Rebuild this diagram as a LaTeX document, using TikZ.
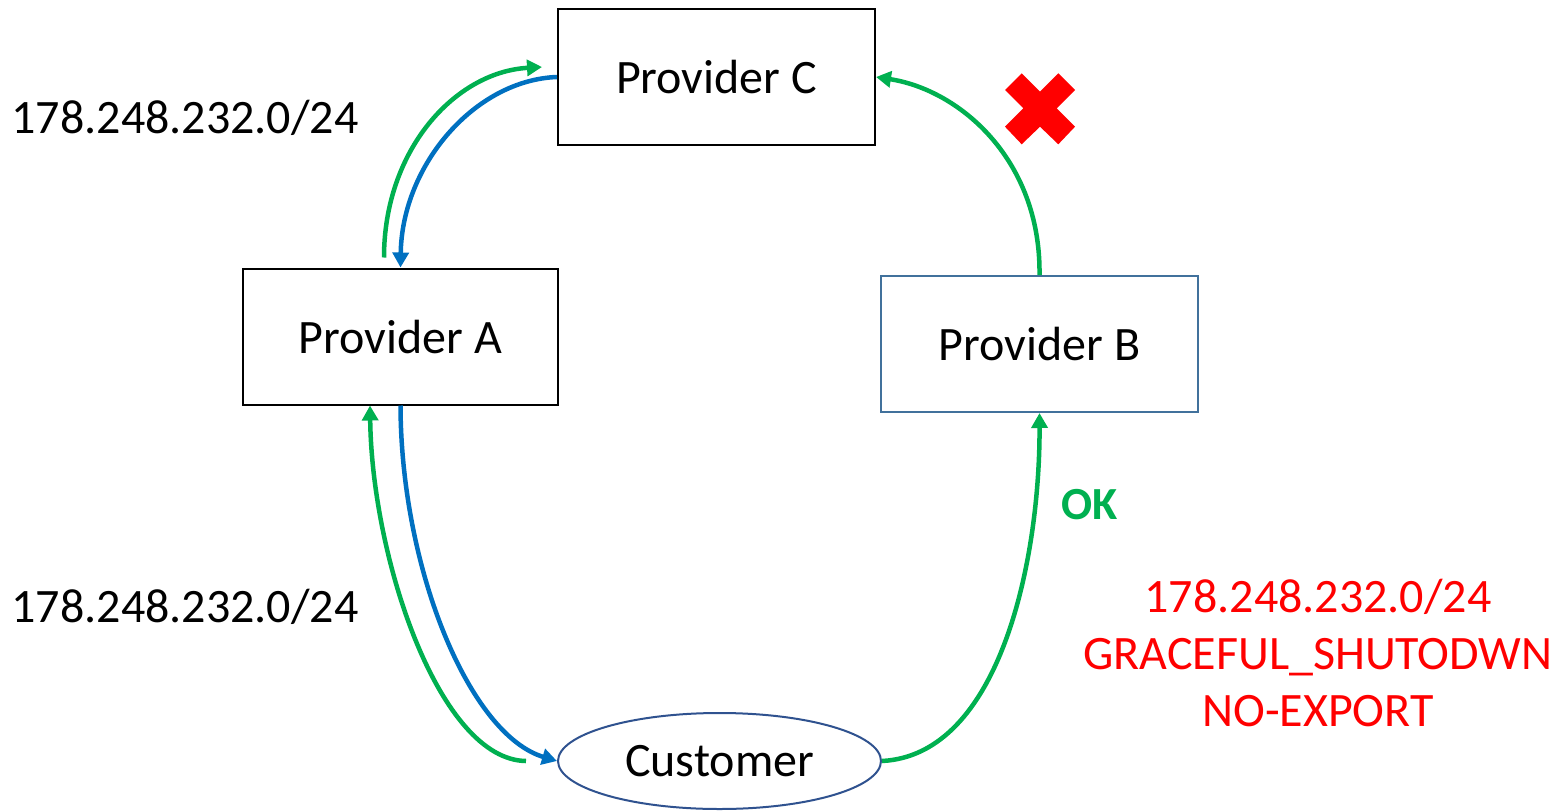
\documentclass[tikz,border=0pt]{standalone}
\usepackage{fontspec}
\setmainfont{Carlito}
\usetikzlibrary{shapes.geometric,arrows.meta,calc}
\definecolor{okgreen}{HTML}{00B050}
\definecolor{pathblue}{HTML}{0070C0}
\definecolor{boxblue}{HTML}{41719C}
\definecolor{ellblue}{HTML}{2F528F}
\definecolor{xred}{HTML}{FF0000}
\tikzset{
  provbox/.style={draw=black, line width=2pt, minimum width=#1, minimum height=136pt, inner sep=0pt,
    font=\fontsize{48}{56}\selectfont},
  custnode/.style={ellipse, draw=ellblue, line width=2pt, minimum width=323pt, minimum height=96pt,
    inner sep=0pt, font=\fontsize{48}{56}\selectfont},
  pfxlabel/.style={font=\fontsize{48}{56}\selectfont, inner sep=0pt},
  route/.style={line width=4.5pt, -{Triangle[length=15pt,width=16pt]}},
}
\begin{document}
\begin{tikzpicture}[x=1pt,y=-1pt]
\useasboundingbox (0,0) rectangle (1563,811);

% routers
\node[provbox=317pt] (C) at (716.5,77) {Provider C};
\node[provbox=315pt] (A) at (400.5,336.5) {Provider A};
\node[provbox=317pt, draw=boxblue] (B) at (1039.5,344) {Provider B};
\node[custnode] (Cu) at (719.5,761) {Customer};

% announced prefix labels
\node[pfxlabel] (pfxC) at (185,118) {178.248.232.0/24};
\node[pfxlabel] (pfxA) at (185,607) {178.248.232.0/24};
\node[pfxlabel, text=xred, align=center, font=\fontsize{48}{57}\selectfont] (comm) at (1318,653)
  {178.248.232.0/24\\GRACEFUL\_SHUTODWN\\NO-EXPORT};
\node[pfxlabel, text=okgreen, font=\fontsize{46}{52}\selectfont\bfseries] (ok) at (1090,505) {OK};

% A <-> C
\draw[route, okgreen] ([xshift=-16.5pt,yshift=10pt]A.north)
  .. controls (384,150) and (455,72) .. ([xshift=-15pt,yshift=10pt]C.west);
\draw[route, pathblue] (C.west)
  .. controls (475,80) and (402,165) .. (A.north);

% A <-> Customer
\draw[route, okgreen] ([xshift=-31pt]Cu.west)
  .. controls (440,760) and (372,560) .. ([xshift=-30.5pt]A.south);
\draw[route, pathblue] (A.south)
  .. controls (401,570) and (470,735) .. (Cu.west);

% Customer -> B -> C
\draw[route, okgreen] (Cu.east)
  .. controls (1000,755) and (1040,560) .. (B.south);
\draw[route, okgreen] (B.north)
  .. controls (1041,160) and (960,90) .. (C.east);

% rejected announcement mark
\fill[xred] (1021.7,73.3) -- (1040,91.7) -- (1058.3,73.3) -- (1075,90) -- (1056.7,108.3)
  -- (1075,126.7) -- (1058.3,144.3) -- (1040,126.7) -- (1021.7,144.3) -- (1005,126.7)
  -- (1023.3,108.3) -- (1005,90) -- cycle;
\end{tikzpicture}
\end{document}
